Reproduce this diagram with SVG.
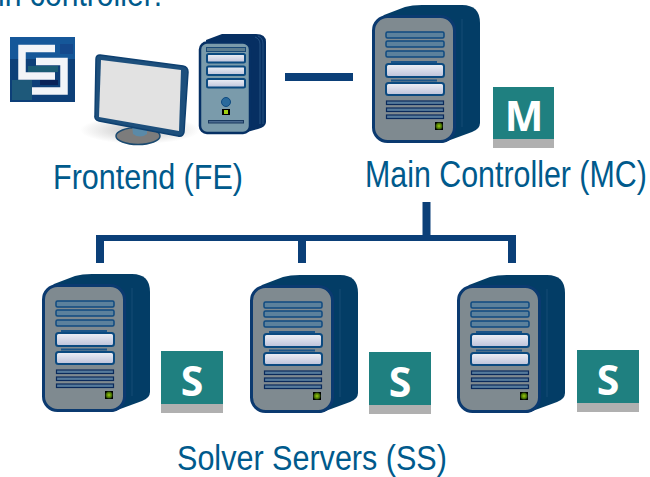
<svg xmlns="http://www.w3.org/2000/svg" xmlns:xlink="http://www.w3.org/1999/xlink" width="650" height="477" viewBox="0 0 650 477">
<style>
text{font-family:"Liberation Sans",Arial,sans-serif;font-size:36px;fill:#005a8c}
.conn{fill:none;stroke:#0b3f78;stroke-width:8}
.badge{fill:#1f8080}.strip{fill:#b0b0b0}
text.bl{font-family:"Open Sans","Liberation Sans",sans-serif;font-size:41px;font-weight:bold;fill:#fff;text-anchor:middle}
.bar{fill:#5c819c;stroke:#0f4a80;stroke-width:1.5}
.slot{fill:url(#w);stroke:#0b4a80;stroke-width:2}
.st{fill:#557a9c;stroke:#0a2a5c;stroke-width:1.2}
</style>
<defs>
<linearGradient id="w" x1="0" y1="0" x2="0" y2="1"><stop offset="0" stop-color="#eef0f6"/><stop offset="1" stop-color="#bcc2da"/></linearGradient>
<radialGradient id="g"><stop offset="0" stop-color="#9ccc10"/><stop offset="1" stop-color="#2a5000"/></radialGradient>
<radialGradient id="sh"><stop offset="0" stop-color="#999" stop-opacity=".6"/><stop offset="1" stop-color="#999" stop-opacity="0"/></radialGradient>
<symbol id="server" width="108" height="138" viewBox="0 0 108 138" overflow="visible">
<path d="M12 10L33 2Q40 0 50 0H90Q108 0 108 18V118Q108 124 100 127L70 138H20Q5 130 5 100V20Z" fill="#033d66"/>
<path d="M90 14V122" stroke="#2a5f85" stroke-width=".5" fill="none"/>
<rect x="1.500" y="11.500" width="81" height="125" rx="14" fill="#7f8a90" stroke="#0b3a70" stroke-width="3"/>
<rect class="bar" x="14" y="27" width="58" height="6" rx="1.500"/>
<rect class="bar" x="14" y="36" width="58" height="6" rx="1.500"/>
<rect class="bar" x="14" y="46" width="58" height="6" rx="1.500"/>
<rect x="19" y="56" width="46" height="2" fill="#1a5488"/>
<rect class="slot" x="14" y="59" width="58" height="13" rx="2.500"/>
<rect x="19" y="74.500" width="46" height="2" fill="#1a5488"/>
<rect class="slot" x="14" y="78" width="58" height="12" rx="2.500"/>
<rect class="st" x="14.500" y="96" width="57" height="3.500"/>
<rect class="st" x="14.500" y="103" width="57" height="3.500"/>
<rect class="st" x="14.500" y="110" width="57" height="3.500"/>
<rect x="63" y="117" width="8" height="8" fill="#000"/><circle cx="67" cy="121" r="3.500" fill="url(#g)"/>
</symbol>
</defs>
<text transform="translate(-2 6) scale(.837 1)">in controller:</text>
<g id="frontend">
<g id="logo">
<rect x="10" y="37" width="65" height="65" fill="#0d3f78"/>
<rect x="10" y="37" width="65" height="22" fill="#1a62a6" opacity=".7"/>
<rect x="12" y="80" width="20" height="20" fill="#2a6a7c" opacity=".6"/>
<rect x="28" y="66" width="30" height="6" fill="#2a7a70" opacity=".5"/>
<rect x="60" y="44" width="13" height="10" fill="#14488c"/>
<rect x="40" y="80" width="18" height="5" fill="#0a2258"/>
<path d="M55 48.500H22V76H55M36 61.500H64V91H32" fill="none" stroke="#f2f4f8" stroke-width="7.500"/>
</g>
<g id="monitor">
<ellipse cx="140" cy="130" rx="60" ry="14" fill="url(#sh)"/>
<ellipse cx="138" cy="136" rx="22" ry="8.500" fill="#7c7c7c" stroke="#1a4a70" stroke-width="1.500"/>
<path d="M132 125H147V134Q140 139 133 134Z" fill="#5a8aa8"/>
<path d="M100 55L183 66Q188 67 188 72L184 132Q183 137 178 136L99 121Q94 120 95 115L96 59Q96 55 100 55Z" fill="#1d4f7c" stroke="#0e4070" stroke-width="1.500"/>
<path d="M101 60L181 70L179 131L99 117Z" fill="#e2e2e2"/>
</g>
<g id="tower">
<path d="M206 40L222 34H256Q266 34 266 42V122Q266 127 258 129L240 134H210Z" fill="#062f62"/>
<path d="M255 37Q260 39 260 44V124M258 36Q263 38 263 44V124" stroke="#3a6a98" stroke-width=".6" fill="none"/>
<rect x="200" y="42.500" width="50" height="90.500" rx="7" fill="#7a9bab" stroke="#063064" stroke-width="2.500"/>
<rect x="206.500" y="47.500" width="39" height="4" fill="#5c7d90" stroke="#1a4a78"/>
<rect class="slot" x="207" y="54" width="38" height="8.500" rx="1.500"/>
<rect class="slot" x="207" y="66.500" width="38" height="8.500" rx="1.500"/>
<rect class="slot" x="207" y="79" width="38" height="8.500" rx="1.500"/>
<circle cx="226" cy="102" r="4.500" fill="#2a6a9c" stroke="#0e4a80"/>
<rect x="222" y="109" width="8" height="6" fill="#000"/><rect x="224" y="110" width="4" height="4" fill="#a0d010"/>
<rect x="208.500" y="120.500" width="35" height="2.500" fill="#4a6a90" stroke="#1a3a60"/>
</g>
<text transform="translate(53 189) scale(.848 1)">Frontend (FE)</text>
</g>
<g id="connectors">
<path class="conn" d="M285 77H353"/>
<path class="conn" d="M426.500 202V238"/>
<path class="conn" style="stroke-width:6" d="M96 238H516"/>
<path class="conn" d="M100 235V263M302 238V263M512 235V263"/>
</g>
<g id="main-controller">
<use xlink:href="#server" href="#server" x="372" y="5" width="108" height="138"/>
<rect class="badge" x="493" y="87" width="61" height="61"/><rect class="strip" x="493" y="139" width="61" height="9"/>
<text class="bl" x="524" y="131">M</text>
<text transform="translate(365 187) scale(.844 1)">Main Controller (MC)</text>
</g>
<g id="solver-1">
<use xlink:href="#server" href="#server" x="42" y="274" width="108" height="138"/>
<rect class="badge" x="161" y="351" width="62" height="62"/><rect class="strip" x="161" y="404" width="62" height="9"/>
<text class="bl" x="192" y="396">S</text>
</g>
<g id="solver-2">
<use xlink:href="#server" href="#server" x="250" y="275" width="108" height="138"/>
<rect class="badge" x="369" y="352" width="62" height="62"/><rect class="strip" x="369" y="405" width="62" height="9"/>
<text class="bl" x="400" y="397">S</text>
</g>
<g id="solver-3">
<use xlink:href="#server" href="#server" x="457" y="275" width="108" height="138"/>
<rect class="badge" x="577" y="350" width="62" height="62"/><rect class="strip" x="577" y="403" width="62" height="9"/>
<text class="bl" x="608" y="395">S</text>
</g>
<text transform="translate(177 470) scale(.849 1)">Solver Servers (SS)</text>
</svg>
